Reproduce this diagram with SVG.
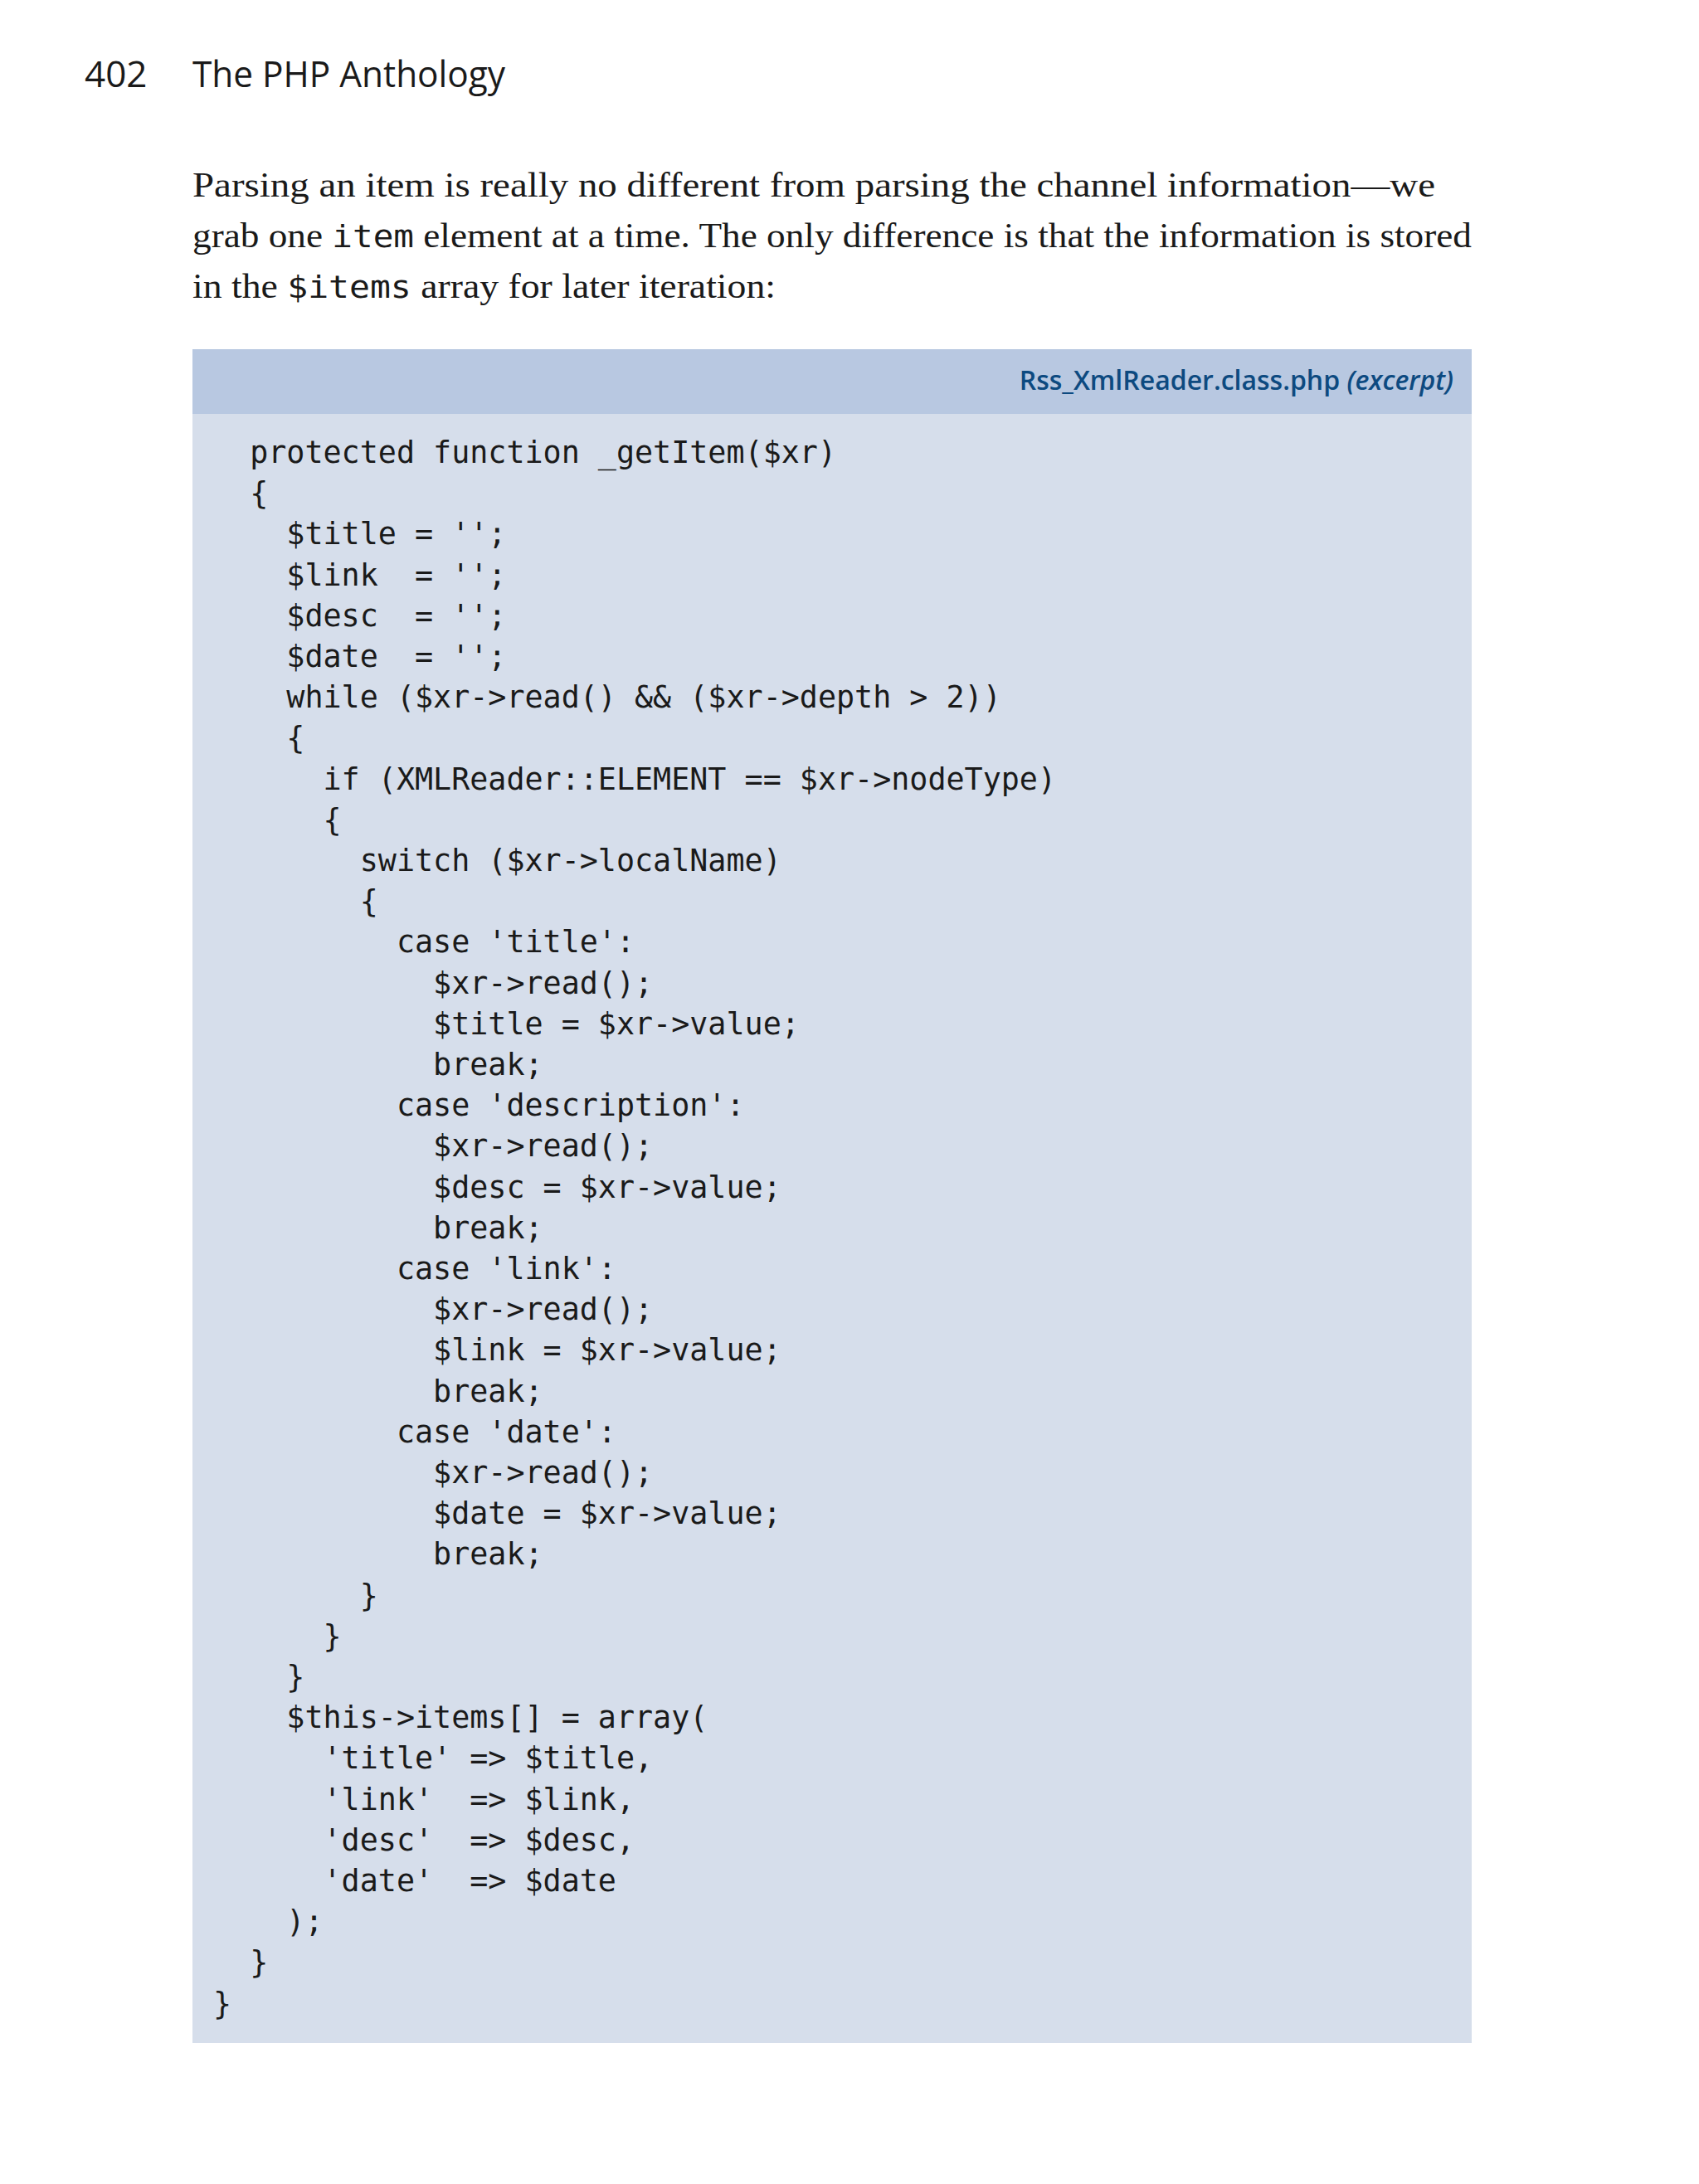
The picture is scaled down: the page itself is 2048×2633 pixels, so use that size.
<svg xmlns="http://www.w3.org/2000/svg" width="2048" height="2633" viewBox="0 0 2048 2633">
<style>
.hd{font-family:"Open Sans","Liberation Sans",sans-serif;font-size:44px;fill:#1a1a1a}
.p{font-family:"Liberation Serif",serif;font-size:42px;fill:#1a1a1a}
.pm{font-family:"DejaVu Sans Mono",monospace;font-size:38px}
.c{font-family:"DejaVu Sans Mono",monospace;font-size:36.7px;fill:#1a1a1a;white-space:pre}
.t{font-family:"Open Sans","Liberation Sans",sans-serif;font-size:32px;fill:#0d4a80;font-weight:600}
</style>
<rect width="2048" height="2633" fill="#fff"/>
<g id="header">
<text class="hd" x="102" y="105">402</text>
<text class="hd" x="232" y="105" textLength="377" lengthAdjust="spacingAndGlyphs">The PHP Anthology</text>
</g>
<g id="paragraph">
<text class="p" x="232" y="237" textLength="1498" lengthAdjust="spacingAndGlyphs">Parsing an item is really no different from parsing the channel information—we</text>
<text class="p" x="232" y="298" textLength="1542" lengthAdjust="spacingAndGlyphs">grab one <tspan class="pm">item</tspan> element at a time. The only difference is that the information is stored</text>
<text class="p" x="232" y="359" textLength="703" lengthAdjust="spacingAndGlyphs">in the <tspan class="pm">$items</tspan> array for later iteration:</text>
</g>
<g id="codebox">
<rect x="232" y="421" width="1542" height="2042" fill="#d6deeb"/>
<rect x="232" y="421" width="1542" height="78" fill="#b8c8e1"/>
<text class="t" x="1752" y="470" text-anchor="end">Rss_XmlReader.class.php <tspan font-style="italic">(excerpt)</tspan></text>
<text class="c" x="257" y="558" xml:space="preserve"><tspan x="257" dy="0">  protected function _getItem($xr)</tspan><tspan x="257" dy="49.2">  {</tspan><tspan x="257" dy="49.2">    $title = '';</tspan><tspan x="257" dy="49.2">    $link  = '';</tspan><tspan x="257" dy="49.2">    $desc  = '';</tspan><tspan x="257" dy="49.2">    $date  = '';</tspan><tspan x="257" dy="49.2">    while ($xr-&gt;read() &amp;&amp; ($xr-&gt;depth &gt; 2))</tspan><tspan x="257" dy="49.2">    {</tspan><tspan x="257" dy="49.2">      if (XMLReader::ELEMENT == $xr-&gt;nodeType)</tspan><tspan x="257" dy="49.2">      {</tspan><tspan x="257" dy="49.2">        switch ($xr-&gt;localName)</tspan><tspan x="257" dy="49.2">        {</tspan><tspan x="257" dy="49.2">          case 'title':</tspan><tspan x="257" dy="49.2">            $xr-&gt;read();</tspan><tspan x="257" dy="49.2">            $title = $xr-&gt;value;</tspan><tspan x="257" dy="49.2">            break;</tspan><tspan x="257" dy="49.2">          case 'description':</tspan><tspan x="257" dy="49.2">            $xr-&gt;read();</tspan><tspan x="257" dy="49.2">            $desc = $xr-&gt;value;</tspan><tspan x="257" dy="49.2">            break;</tspan><tspan x="257" dy="49.2">          case 'link':</tspan><tspan x="257" dy="49.2">            $xr-&gt;read();</tspan><tspan x="257" dy="49.2">            $link = $xr-&gt;value;</tspan><tspan x="257" dy="49.2">            break;</tspan><tspan x="257" dy="49.2">          case 'date':</tspan><tspan x="257" dy="49.2">            $xr-&gt;read();</tspan><tspan x="257" dy="49.2">            $date = $xr-&gt;value;</tspan><tspan x="257" dy="49.2">            break;</tspan><tspan x="257" dy="49.2">        }</tspan><tspan x="257" dy="49.2">      }</tspan><tspan x="257" dy="49.2">    }</tspan><tspan x="257" dy="49.2">    $this-&gt;items[] = array(</tspan><tspan x="257" dy="49.2">      'title' =&gt; $title,</tspan><tspan x="257" dy="49.2">      'link'  =&gt; $link,</tspan><tspan x="257" dy="49.2">      'desc'  =&gt; $desc,</tspan><tspan x="257" dy="49.2">      'date'  =&gt; $date</tspan><tspan x="257" dy="49.2">    );</tspan><tspan x="257" dy="49.2">  }</tspan><tspan x="257" dy="49.2">}</tspan></text>
</g>
</svg>
